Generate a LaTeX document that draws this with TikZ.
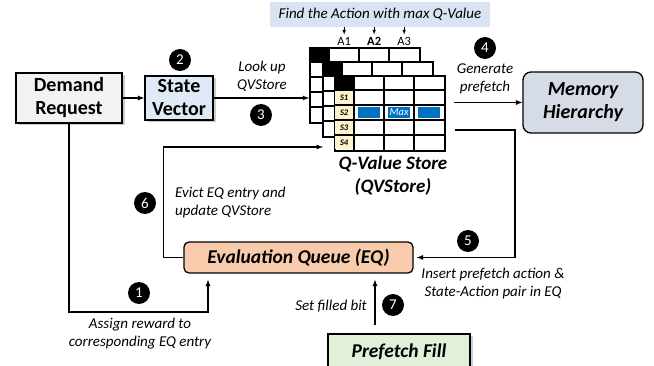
\documentclass[tikz,border=0pt]{standalone}
\usepackage{fontspec}
\setmainfont{Carlito}
\usetikzlibrary{shapes,arrows,shadows,positioning}

\definecolor{drgray}{HTML}{F2F2F2}
\definecolor{svblue}{HTML}{DEEBF7}
\definecolor{memgray}{HTML}{D6DCE5}
\definecolor{eqpeach}{HTML}{F8CBAD}
\definecolor{pfgreen}{HTML}{E2F0D9}
\definecolor{findblue}{HTML}{DAE3F3}
\definecolor{syellow}{HTML}{FFF2CC}
\definecolor{maxblue}{HTML}{0070C0}

\begin{document}
\begin{tikzpicture}[
    x=1pt,y=-1pt,
	block/.style={draw, line width=1.3pt, align=center, inner sep=0, font=\fontsize{20}{23}\selectfont\bfseries},
	shadowed/.style={drop shadow={shadow xshift=2.5pt, shadow yshift=-2.5pt, fill=black!40}},
	qvtable/.style={draw, line width=1.7pt, fill=white, minimum width=110pt, minimum height=75pt, inner sep=0},
	qvline/.style={line width=1.7pt},
	slabel/.style={fill=syellow, minimum width=18.2pt, minimum height=13.2pt, inner sep=0, font=\fontsize{8.5}{8.5}\selectfont\bfseries\itshape},
	maxcell/.style={fill=maxblue, minimum width=22pt, minimum height=11pt, inner sep=0, text=white, font=\fontsize{10.5}{10.5}\selectfont\itshape},
	numdot/.style={circle, fill=black, text=white, minimum size=22pt, inner sep=0, font=\fontsize{15}{15}\selectfont},
	label/.style={font=\fontsize{15}{18}\selectfont\itshape, align=center, inner sep=0},
	conn/.style={->, >=latex, line width=1.2pt}
]
\useasboundingbox (0,0) rectangle (654,366);

\node[block, shadowed, fill=drgray, minimum width=106pt, minimum height=50pt] (dr) at (69,98) {Demand\\Request};
\node[block, shadowed, fill=svblue, minimum width=68pt, minimum height=44pt] (sv) at (179,98) {State\\Vector};
\node[block, fill=memgray, rounded corners=8pt, minimum width=120pt, minimum height=61pt, font=\fontsize{20}{23}\selectfont\bfseries\itshape] (mem) at (583,102.5) {Memory\\Hierarchy};
\node[block, fill=eqpeach, rounded corners=5pt, minimum width=229pt, minimum height=31pt, font=\fontsize{19.5}{22}\selectfont\bfseries\itshape] (eq) at (298.5,257.5) {Evaluation Queue (EQ)};
\node[block, shadowed, fill=pfgreen, minimum width=142pt, minimum height=36pt, font=\fontsize{19.5}{22}\selectfont\bfseries\itshape] (pf) at (399,352) {Prefetch Fill};

% Q-value store, three layers
\foreach \dx/\dy/\nm in {-25/-28/qvback, -12/-14/qvmid, 0/0/qvfront} {
  \node[qvtable] (\nm) at (390+\dx,113.5+\dy) {};
  \fill (\nm.north west) rectangle ++(20,15);
  \foreach \c in {20,50,80}
    \draw[qvline] ([xshift=\c pt]\nm.north west) -- ([xshift=\c pt]\nm.south west);
  \foreach \r in {15,30,45,60}
    \draw[qvline] ([yshift=-\r pt]\nm.north west) -- ([yshift=-\r pt]\nm.north east);
}
\foreach \s [count=\i] in {S1,S2,S3,S4}
  \node[slabel] at ([shift={(10,15*\i+7.5)}]qvfront.north west) {\s};
\node[maxcell] at ([shift={(35,37.5)}]qvfront.north west) {};
\node[maxcell] at ([shift={(65,37.5)}]qvfront.north west) {Max};
\node[maxcell] at ([shift={(95,37.5)}]qvfront.north west) {};
\node[font=\fontsize{19}{23}\selectfont\bfseries\itshape, align=center] (qvname) at (393,176) {Q-Value Store\\(QVStore)};

\node[fill=findblue, minimum width=220pt, minimum height=25pt, inner sep=0, font=\fontsize{15}{15}\selectfont\itshape] (find) at (380,14.5) {Find the Action with max Q-Value};
\node[font=\fontsize{12.5}{12.5}\selectfont] (a1) at ([shift={(35,-6)}]qvback.north west) {A1};
\node[font=\fontsize{12.5}{12.5}\selectfont\bfseries] (a2) at ([shift={(65,-6)}]qvback.north west) {A2};
\node[font=\fontsize{12.5}{12.5}\selectfont] (a3) at ([shift={(95,-6)}]qvback.north west) {A3};
\foreach \a in {a1,a2,a3}
  \draw[->, >=latex, line width=0.6pt, shorten >=-1pt] (find.south -| \a) -- (\a.north);

% steps
\node[numdot] (n1) at (139,293) {1};
\node[numdot] (n2) at (180,60) {2};
\node[numdot] (n3) at (261,115) {3};
\node[numdot] (n4) at (485,48) {4};
\node[numdot] (n5) at (468,241) {5};
\node[numdot] (n6) at (145,203) {6};
\node[numdot] (n7) at (393,305) {7};

\node[label] (lookup) at (262,76) {Look up\\QVStore};
\node[label] (genpf) at (485,79) {Generate\\prefetch};
\node[label, align=left, anchor=west] (evict) at (175,202.5) {Evict EQ entry and\\update QVStore};
\node[label] (insert) at (493,284) {Insert prefetch action \&\\State-Action pair in EQ};
\node[label] (assign) at (140,334) {Assign reward to\\corresponding EQ entry};
\node[label, anchor=east] (setbit) at (367,306) {Set filled bit};

\coordinate (evin) at (323,147);
\coordinate (rwd) at (208,312);
\coordinate (fillx) at (375,0);
\coordinate (insout) at (455,130);

\draw[conn] (dr) -- (sv);
\draw[conn] (sv) -- (sv -| qvback.west);
\draw[conn] ([xshift=8pt]qvfront.east |- mem.west) -- (mem.west);
\draw[conn, shorten >=3pt] (insout) -- (515,130) |- (eq.east);
\draw[conn] (eq.west) -- ++(-20,0) |- (evin);
\draw[conn, shorten >=6pt] (dr.south) |- (rwd) -- (rwd |- eq.south);
\draw[conn, shorten >=6pt, shorten <=8pt] (pf.north -| fillx) -- (eq.south -| fillx);
\end{tikzpicture}
\end{document}
